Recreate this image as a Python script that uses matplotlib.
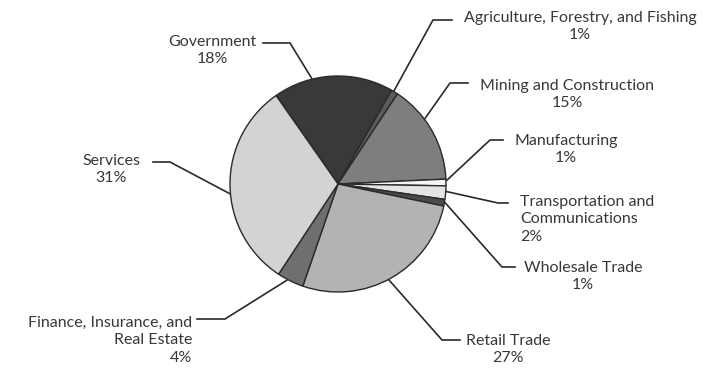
import numpy as np
import matplotlib.pyplot as plt

plt.rcParams['font.family'] = ['Lato', 'DejaVu Sans']

# employment share by sector (%)
sectors = ['Government', 'Agriculture, Forestry, and Fishing', 'Mining and Construction',
           'Manufacturing', 'Transportation and Communications', 'Wholesale Trade',
           'Retail Trade', 'Finance, Insurance, and Real Estate', 'Services']
shares = [18, 1, 15, 1, 2, 1, 27, 4, 31]
label_text = ['Government', 'Agriculture, Forestry, and Fishing', 'Mining and Construction',
              'Manufacturing', 'Transportation and\nCommunications', 'Wholesale Trade',
              'Retail Trade', 'Finance, Insurance, and\nReal Estate', 'Services']
colors = ['#393939', '#5c5c5c', '#7e7e7e', '#f4f4f4', '#e4e4e4', '#4a4a4a',
          '#b3b3b3', '#6f6f6f', '#d3d3d3']

W, H = 717, 368
cx, cy, R = 338, H - 184, 108

# leader layout: angle on the rim, elbow point, end of the horizontal tick (pixel coords, y down)
rim_angle = [104, 59, 37, 2, -4, -10, -62, -118, 185]
elbow = [(290, 43), (433, 20), (450, 83), (490, 140), (498, 203), (502, 267),
         (442, 340), (225, 319), (170, 162)]
tick_end = [(263, 43), (452, 20), (468, 83), (503, 140), (508, 203), (515, 267),
            (460, 340), (197, 319), (153, 162)]
# centre of the first text line
text_pos = [(212, 41), (580, 17), (567, 85), (566, 140), (520, 201), (583, 267),
            (508, 340), (192, 322), (111, 160)]
text_ha = ['center', 'center', 'center', 'center', 'left', 'center',
           'center', 'right', 'center']

fig = plt.figure(figsize=(W / 100, H / 100), dpi=100)
ax = fig.add_axes([0, 0, 1, 1])

ax.pie(shares, colors=colors, startangle=125, counterclock=False,
       center=(cx, cy), radius=R, frame=True,
       wedgeprops=dict(edgecolor='#2a2a2a', linewidth=1.0))
ax.set_xlim(0, W)
ax.set_ylim(0, H)
ax.set_aspect('equal')
ax.axis('off')

for i, name in enumerate(label_text):
    a = np.deg2rad(rim_angle[i])
    x0, y0 = cx + (R + 1) * np.cos(a), cy + (R + 1) * np.sin(a)
    ex, ey = elbow[i]
    tx, ty = tick_end[i]
    ax.plot([x0, ex, tx], [y0, H - ey, H - ty], color='#2a2a2a', lw=1.2,
            solid_joinstyle='miter')
    txt = f'{name}\n{shares[i]}%'
    px, py = text_pos[i]
    ax.text(px, H - py + 6, txt, ha=text_ha[i], va='top', fontsize=11.5,
            color='#383838', linespacing=1.3, multialignment=text_ha[i])

fig.savefig('out.png', dpi=100)
